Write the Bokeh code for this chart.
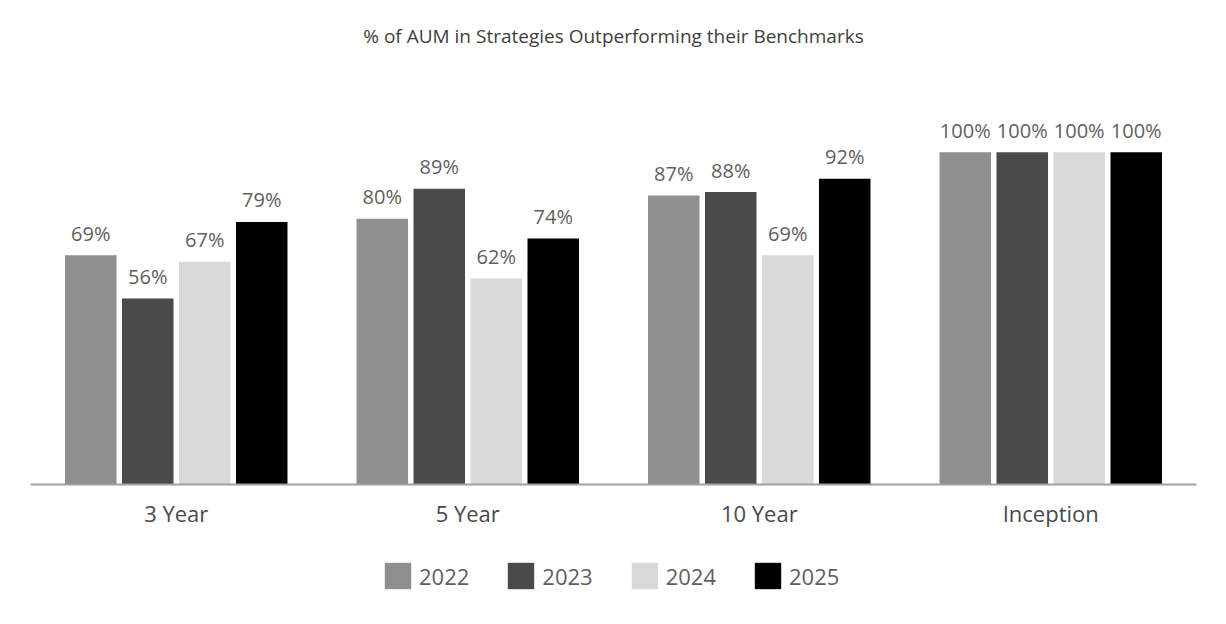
from bokeh.plotting import figure
from bokeh.models import ColumnDataSource, LabelSet, Legend, LegendItem, FactorRange, Range1d
from bokeh.layouts import column
from bokeh.transform import dodge
from bokeh.core.properties import value
from bokeh.embed import file_html
from bokeh.resources import INLINE

categories = ["3 Year", "5 Year", "10 Year", "Inception"]
years = ["2022", "2023", "2024", "2025"]
v2022 = [69, 80, 87, 100]
v2023 = [56, 89, 88, 100]
v2024 = [67, 62, 69, 100]
v2025 = [79, 74, 92, 100]
series = [v2022, v2023, v2024, v2025]
colors = ["#8F8F8F", "#4A4A4A", "#D9D9D9", "#000000"]
title = "% of AUM in Strategies Outperforming their Benchmarks"

FONT = "Open Sans"

p = figure(width=1226, height=530, x_range=FactorRange(factors=categories),
           y_range=Range1d(0, 128.8), output_backend="svg", toolbar_location=None,
           y_axis_location=None, min_border_left=30, min_border_right=30,
           min_border_top=56, min_border_bottom=45)
p.title.text = title
p.title.align = "center"
p.title.text_font = FONT
p.title.text_font_size = "19px"
p.title.text_font_style = "normal"
p.title.text_color = "#404040"
p.title.standoff = 16
p.grid.visible = False
p.outline_line_color = None
p.background_fill_color = "white"
p.border_fill_color = "white"

step = 0.1955
width = 0.1767
for j, (yr, vals, col) in enumerate(zip(years, series, colors)):
    src = ColumnDataSource(dict(cat=categories, val=vals, lab=[f"{v}%" for v in vals]))
    off = (j - 1.5) * step
    p.vbar(x=dodge("cat", off, range=p.x_range), top="val", width=width, source=src,
           fill_color=col, line_color=None)
    lbl = LabelSet(x=dodge("cat", off, range=p.x_range), y="val", text="lab", source=src,
                   text_align="center", text_baseline="alphabetic", y_offset=14.5,
                   text_font=value(FONT), text_font_size=value("20px"),
                   text_color="#5f5f5f")
    p.add_layout(lbl)

ax = p.xaxis[0]
ax.axis_line_color = "#A0A0A0"
ax.axis_line_width = 2
ax.major_tick_line_color = None
ax.minor_tick_line_color = None
ax.major_label_standoff = 7
ax.major_label_text_font = FONT
ax.major_label_text_font_size = "22px"
ax.major_label_text_color = "#4a4a4a"

# legend figure (zero-height placeholder bars only carry the legend swatches)
lg = figure(width=1226, height=94, x_range=Range1d(0, 1), y_range=Range1d(0, 1),
            output_backend="svg", toolbar_location=None, x_axis_location=None,
            y_axis_location=None, min_border=0)
lg.grid.visible = False
lg.outline_line_color = None
items = []
for yr, col in zip(years, colors):
    r = lg.vbar(x=[0.5], top=[0], bottom=[0], width=0, fill_color=col, line_color=None)
    items.append(LegendItem(label=yr, renderers=[r]))
legend = Legend(items=items, orientation="horizontal", glyph_width=33, glyph_height=33,
                label_standoff=5, spacing=35, label_text_font=FONT,
                label_text_font_size="22px", label_text_color="#5f5f5f",
                border_line_color=None, background_fill_alpha=0,
                location=(351, 32), padding=0, margin=0)
lg.add_layout(legend, "center")

layout = column(p, lg, spacing=0)
open("out.html", "w").write(file_html(layout, INLINE))
